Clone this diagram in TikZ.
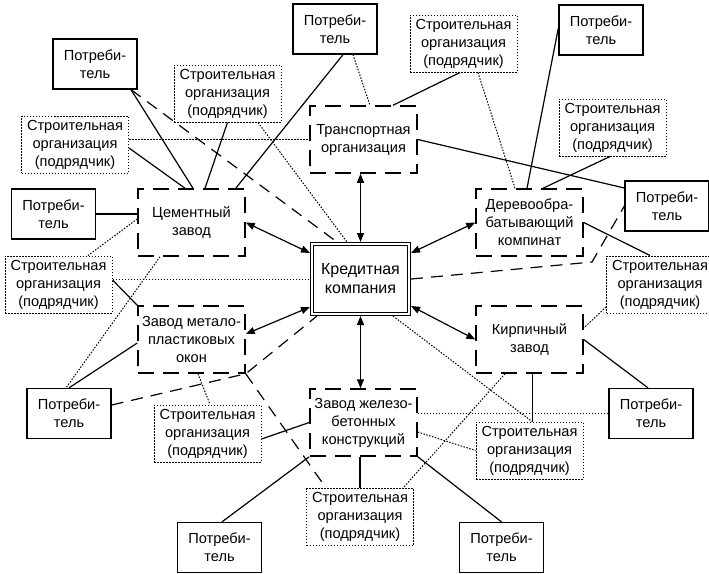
\documentclass[tikz,border=0pt]{standalone}
\usepackage{fontspec}
\setmainfont{Liberation Sans}
\usetikzlibrary{arrows.meta}

\begin{document}
\begin{tikzpicture}[x=1pt, y=-1pt,
  every node/.style={align=center, font=\fontsize{14.6}{18}\selectfont},
  bankbox/.style={draw, double, double distance=1.5pt, line width=1.2pt, outer sep=1.95pt,
                  minimum width=97.1pt, minimum height=70.1pt, inner sep=0pt,
                  font=\fontsize{16}{19}\selectfont},
  firmbox/.style={draw, line width=1.5pt, dash pattern=on 16pt off 9pt,
                  minimum width=107pt, minimum height=67pt, inner sep=0pt},
  userbox/.style={draw, line width=1.3pt, minimum width=84pt, minimum height=50pt, inner sep=0pt},
  contrbox/.style={draw, line width=1pt, dash pattern=on 1.5pt off 1.5pt,
                  minimum width=107pt, minimum height=57pt, inner sep=0pt},
  finarrow/.style={line width=1.2pt, {Triangle[length=9pt,width=7pt]}-{Triangle[length=9pt,width=7pt]}},
  solidline/.style={line width=1.2pt},
  dashline/.style={line width=1.2pt, dash pattern=on 12pt off 8pt},
  dotline/.style={line width=1pt, dash pattern=on 1.5pt off 1.5pt}]

  \useasboundingbox (0,0) rectangle (709,573);

  %credit company
  \node[bankbox] (bank) at (360.5,279) {Кредитная\\компания};

  %firms
  \foreach \name/\x/\y/\txt in {
      trans/363.5/139.5/{Транспортная\\организация},
      cem/191.5/222.5/{Цементный\\завод},
      wood/529.5/222.5/{Деревообра-\\батывающий\\компинат},
      met/191.5/339.5/{Завод метало-\\пластиковых\\окон},
      brick/529.5/339.5/{Кирпичный\\завод},
      con/363.5/422.5/{Завод железо-\\бетонных\\конструкций}}{
    \node[firmbox] (\name) at (\x,\y) {\txt};
  }

  %users
  \foreach \name/\x/\y in {u1/95/64, u2/335/29, u3/601/30, u4/667/206, u5/53.5/214,
                           u6/69/413.5, u7/651/413.5, u8/219.5/547.5, u9/501.5/547.5}{
    \node[userbox] (\name) at (\x,\y) {Потреби-\\тель};
  }

  %contractors
  \foreach \name/\x/\y in {s1/227.5/93.5, s2/75/144.5, s3/463.5/43.5, s4/612.5/127.5, s5/58.5/284.5,
                           s6/660/284.5, s7/207.5/433.5, s8/529.5/450.5, s9/360/517}{
    \node[contrbox] (\name) at (\x,\y) {Строительная\\организация\\(подрядчик)};
  }

  %credit links
  \draw[finarrow] (cem.east) -- ([yshift=-11pt]bank.north west);
  \draw[finarrow] ([yshift=5.5pt]met.east) -- ([yshift=9pt]bank.south west);
  \draw[finarrow] (wood.west) -- ([yshift=-11pt]bank.north east);
  \draw[finarrow] (brick.west) -- ([yshift=10pt]bank.south east);
  \draw[finarrow] (bank.north) -- (bank.north |- trans.south);
  \draw[finarrow] (bank.south) -- (bank.south |- con.north);

  %solid
  \draw[solidline] ([xshift=36pt]u1.south) -- ([xshift=1.5pt]cem.north);
  \draw[solidline] ([yshift=-3.5pt]s2.east) -- ([xshift=-6.5pt]cem.north);
  \draw[solidline] (s1.south) -- ([xshift=13.5pt]cem.north);
  \draw[solidline] ([xshift=8pt]u2.south) -- ([xshift=-10pt]cem.north east);
  \draw[solidline] (u5.east) -- (u5.east -| cem.west);
  \draw[solidline] ([yshift=4.5pt]s5.east) -- (met.north west);
  \draw[solidline] (u6.north) -- ([yshift=-3.5pt]met.west);
  \draw[solidline] ([xshift=29.5pt]trans.north) -- ([xshift=-3.5pt]s3.south);
  \draw[solidline] (trans.east) -- ([yshift=18pt]u4.west);
  \draw[solidline] ([yshift=2pt]u3.west) -- ([xshift=-2.5pt]wood.north);
  \draw[solidline] ([xshift=-2.5pt]s4.south) -- ([xshift=13.5pt]wood.north);
  \draw[solidline] (wood.east) -- ([xshift=-10pt]s6.north);
  \draw[solidline] (brick.east) -- ([xshift=-3pt]u7.north);
  \draw[solidline] ([xshift=3pt]brick.south) -- ([xshift=3pt]s8.north);
  \draw[solidline] (con.south east) -- (u9.north);
  \draw[solidline] (s9.north |- con.south) -- (s9.north);
  \draw[solidline] (con.west) -- ([yshift=-5.5pt]s7.east);
  \draw[solidline] (con.south west) -- ([xshift=2.5pt]u8.north);

  %dashed
  \coordinate (bend) at (592,262);
  \draw[dashline] ([xshift=36pt]u1.south) -- ([xshift=-23.5pt]bank.north);
  \draw[dashline] ([yshift=8.5pt]u6.east) -- (met.south east) -- ([xshift=7pt]bank.south west);
  \draw[dashline] (met.south east) -- ([xshift=20pt]s9.north west);
  \draw[dashline] (bank.east) -- (bend) -- (u4.west);

  %dotted
  \draw[dotline] (s2.east |- trans.west) -- (trans.west);
  \draw[dotline] ([xshift=30.5pt]s1.south) -- ([xshift=-13.5pt]bank.north);
  \draw[dotline] ([xshift=18pt]u2.south) -- ([xshift=6.5pt]trans.north);
  \draw[dotline] ([xshift=14.5pt]s3.south) -- ([xshift=-14.5pt]wood.north);
  \draw[dotline] ([yshift=3.5pt]cem.west) -- ([xshift=29.5pt]s5.north);
  \draw[dotline] ([xshift=-31.5pt]cem.south) -- ([xshift=-3pt]u6.north);
  \draw[dotline] (s5.east |- bank.west) -- (bank.west);
  \draw[dotline] ([xshift=32.5pt]bank.south) -- ([xshift=2.5pt]s8.north);
  \draw[dotline] ([yshift=-22.5pt]s6.west) -- ([yshift=11.5pt]brick.east);
  \draw[dotline] ([xshift=-24.5pt]brick.south) -- ([xshift=43pt]s9.north);
  \draw[dotline] (con.east |- u7.west) -- (u7.west);
  \draw[dotline] ([yshift=-9.5pt]con.east) -- (s8.west);
  \draw[dotline] ([xshift=6.5pt]met.south) -- ([xshift=2.5pt]s7.north);

\end{tikzpicture}
\end{document}
